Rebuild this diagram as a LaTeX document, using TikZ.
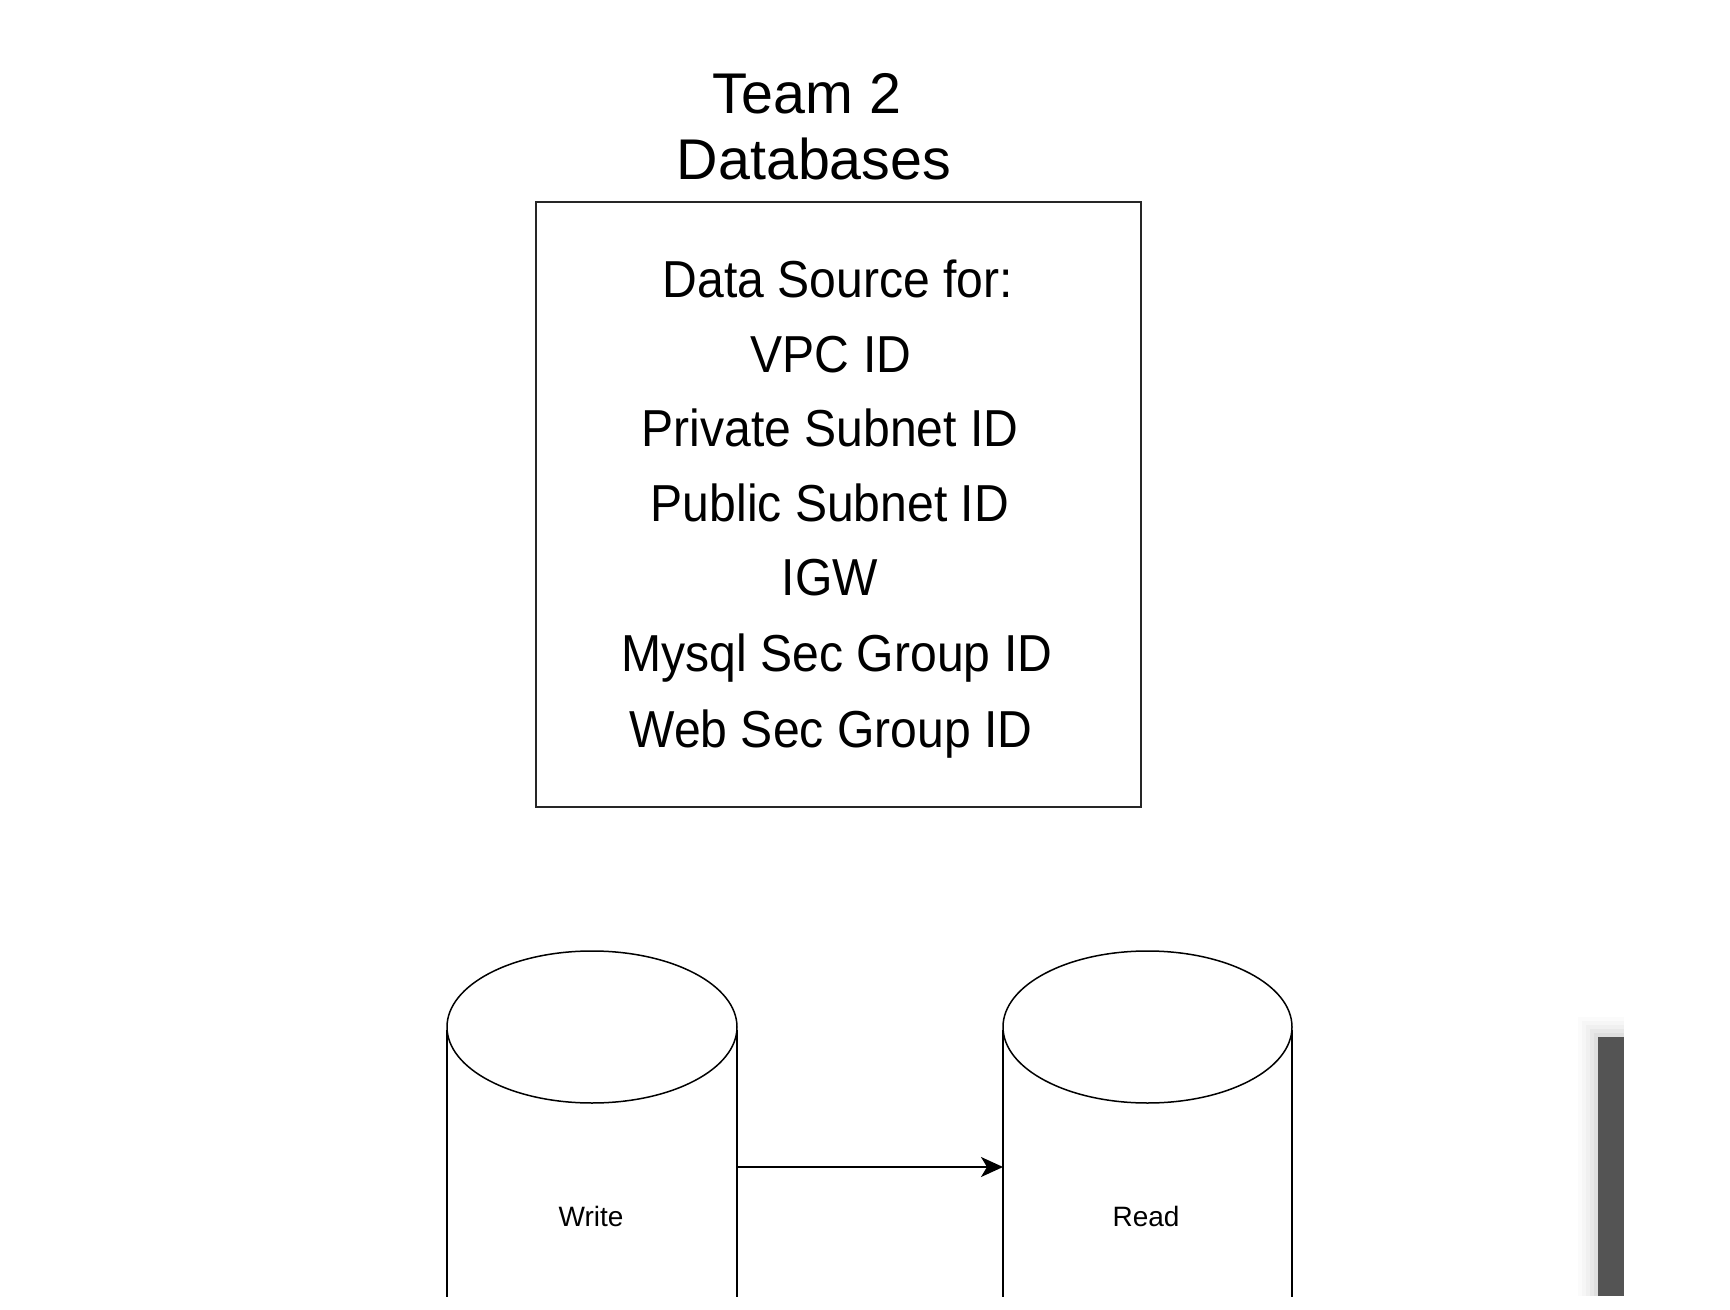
\documentclass[tikz,border=0pt]{standalone}
\usepackage{fontspec}
\setmainfont{Liberation Sans}
\usetikzlibrary{arrows.meta}
\newcommand{\narrowtxt}[1]{\scalebox{0.925}[1]{#1}}
\begin{document}
\begin{tikzpicture}[x=0.5pt,y=-0.5pt,
  titletext/.style={anchor=base,inner sep=0pt,font=\fontsize{28.7}{33}\selectfont},
  itemtext/.style={anchor=base,inner sep=0pt,font=\fontsize{26}{30}\selectfont},
  dbtext/.style={anchor=base,inner sep=0pt,font=\fontsize{14}{17}\selectfont},
  boxline/.style={draw=black!85,line width=1pt},
  cylline/.style={draw=black,line width=0.75pt},
  flow/.style={draw=black,line width=1pt,-{Stealth[length=11pt,width=10pt,inset=3pt]}}]
\useasboundingbox[fill=white] (0,0) rectangle (1730,1310);
% title
\node[titletext] (t1) at (807,114) {Team 2};
\node[titletext] (t2) at (814,180) {Databases};
% data source box
\node[boxline,minimum width=302.5pt,minimum height=302.5pt,inner sep=0pt] (box) at (838.5,504.5) {};
\node[itemtext] (l1) at (838,298) {\narrowtxt{Data Source for:}};
\node[itemtext] (l2) at (831,373) {\narrowtxt{VPC ID}};
\node[itemtext] (l3) at (830,447) {\narrowtxt{Private Subnet ID}};
\node[itemtext] (l4) at (830,522) {\narrowtxt{Public Subnet ID}};
\node[itemtext] (l5) at (830,596) {\narrowtxt{IGW}};
\node[itemtext] (l6) at (837,671) {\narrowtxt{Mysql Sec Group ID}};
\node[itemtext] (l7) at (831,747) {\narrowtxt{Web Sec Group ID}};
% cylinders (cut off at the bottom)
\begin{scope}
\clip (0,0) rectangle (1730,1296);
\draw[cylline] (447,1030) -- (447,1400) (737,1030) -- (737,1400);
\draw[cylline,fill=white] (592,1027) ellipse [x radius=145,y radius=76];
\draw[cylline] (1003,1030) -- (1003,1400) (1292,1030) -- (1292,1400);
\draw[cylline,fill=white] (1147.5,1027) ellipse [x radius=144.5,y radius=76];
\end{scope}
\coordinate (wr) at (737,1167);
\coordinate (rl) at (1003,1167);
\node[dbtext] (write) at (591,1226) {Write};
\node[dbtext] (read) at (1146,1226) {Read};
\draw[flow] (wr) -- (rl);
% scrollbar with soft shadow
\foreach \s/\o in {20/0.015,16/0.02,12/0.025,8/0.03,4/0.035}
  \fill[black,opacity=\o] (1598-\s,1037-\s) rectangle (1624,1296);
\fill[black!67] (1598,1037) rectangle (1624,1296);
\end{tikzpicture}
\end{document}
